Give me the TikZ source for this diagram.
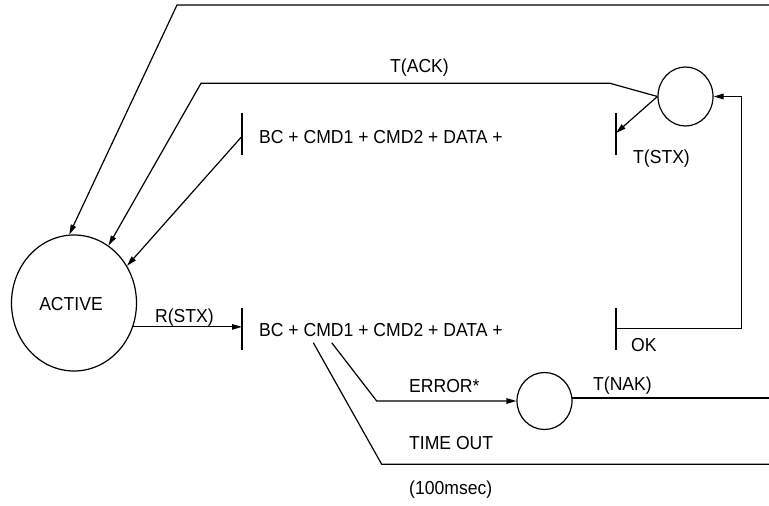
\documentclass[tikz,border=0pt]{standalone}
\usepackage{fontspec}
\setmainfont{Liberation Sans}[FakeStretch=0.935]
\usetikzlibrary{arrows.meta,shapes.geometric}
\tikzset{
  line/.style={line width=1.2pt},
  arr/.style={line, -{Triangle[length=10pt,width=5.5pt]}},
  state/.style={ellipse, draw, line width=1.2pt, inner sep=0pt},
  lbl/.style={anchor=base west, inner sep=0pt, font=\fontsize{18.8}{20}\selectfont},
}
\begin{document}
\begin{tikzpicture}[x=1pt,y=-1pt]
\useasboundingbox (0,0) rectangle (769,506);
% states
\node[state, minimum width=125pt, minimum height=136pt] (act) at (74,303) {};
\node[lbl, anchor=base] (actl) at (71,310) {ACTIVE};
\node[state, minimum width=55pt, minimum height=59pt] (ack) at (685.5,96.5) {};
\node[state, minimum width=55pt, minimum height=57pt] (err) at (544.5,401) {};
% bars
\coordinate (bup) at (242,134);
\coordinate (blow) at (242,328.5);
\coordinate (bstx) at (616,134);
\coordinate (bok) at (616,328.5);
\foreach \b in {bup,blow,bstx,bok}
  \draw[line] ([yshift=-21pt]\b) -- ([yshift=21pt]\b);
% free ends
\coordinate (topR) at (769,5);
\coordinate (topL) at (177,5);
\coordinate (ackR) at (610,83.3);
\coordinate (ackL) at (201,83.3);
\coordinate (l1a) at (313.3,342.7);
\coordinate (l1b) at (381.7,464.3);
\coordinate (l1c) at (769,464.3);
\coordinate (l2a) at (331.7,342.7);
\coordinate (l2b) at (376.7,401);
\coordinate (nakR) at (769,397.7);
\coordinate (okR) at (741.7,328.5);
% labels
\node[lbl] (tack) at (390,72) {T(ACK)};
\node[lbl] (bc1) at (259,143) {BC + CMD1 + CMD2 + DATA +};
\node[lbl] (tstx) at (633,163) {T(STX)};
\node[lbl] (rstx) at (155,322) {R(STX)};
\node[lbl] (bc2) at (259,336) {BC + CMD1 + CMD2 + DATA +};
\node[lbl] (ok) at (631,351) {OK};
\node[lbl] (error) at (409,392) {ERROR*};
\node[lbl] (tnak) at (593,390) {T(NAK)};
\node[lbl] (tout) at (409,449) {TIME OUT};
\node[lbl] (msec) at (409,494) {(100msec)};
% connectors
\draw[arr] (topR) -- (topL) -- (act.94.8);
\draw[arr] (ack.west) -- (ackR) -- (ackL) -- (act.59);
\draw[arr] ([yshift=-2.3pt]bup) -- (act.35);
\draw[arr] (ack.west) -- ([yshift=1pt]bstx);
\draw[arr] (act.-22) -- (act.-22 -| blow);
\draw[line] (l1a) -- (l1b) -- (l1c);
\draw[arr] (l2a) -- (l2b) -- (err.west);
\draw[line] (err.6) -- (err.6 -| nakR);
\draw[arr] (bok) -- (okR) -- (okR |- ack.east) -- (ack.east);
\end{tikzpicture}
\end{document}
